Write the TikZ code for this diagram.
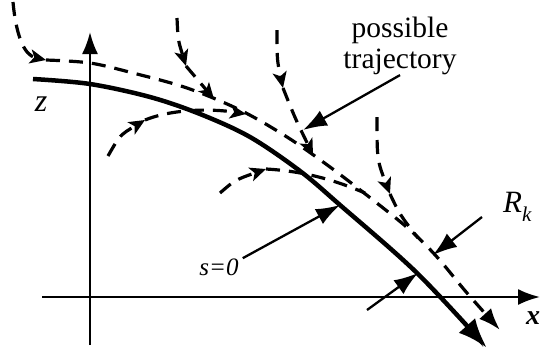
\documentclass[tikz,border=0pt]{standalone}
\usepackage{fontspec}
\setmainfont{Liberation Serif}
\usetikzlibrary{arrows.meta}
\tikzset{
	axis/.style    ={line width=2.2pt, -{Latex[length=22pt, width=16pt]}},
	surface/.style ={line width=4.5pt, -{Latex[length=30pt, width=22pt]}},
	traj/.style    ={line width=3.2pt, dash pattern=on 14pt off 9pt},
	trajhead/.style={traj, -{Stealth[length=16pt, width=14pt, inset=4pt]}},
	trajend/.style ={traj, -{Latex[length=22pt, width=16pt]}},
	pointer/.style ={line width=2.3pt, -{Latex[length=24pt, width=17pt]}},
	lbl/.style     ={inner sep=0pt},
}

\begin{document}
\begin{tikzpicture}[x=1pt, y=-1pt]
	\useasboundingbox (0,0) rectangle (540,351);
	% axes
	\draw[axis] (90,345) -- (90,32);
	\draw[axis] (42,297) -- (540,297);
	% sliding surface s=0
	\draw[surface] plot[smooth, tension=0.55] coordinates {(33,79) (90,84) (150,97) (200,114) (250,137) (300,171) (340,205) (417,273) (487,348)};
	% boundary trajectory
	\draw[trajhead] (13,2) .. controls (16,35) and (24,55) .. (46,60);
	\draw[trajend] plot[smooth, tension=0.55] coordinates {(46,60) (90,63) (133,73) (187,88) (240,110) (287,137) (330,167) (373,200) (410,230) (437,257) (467,293) (500,330)};
	% trajectories reaching the boundary layer
	\draw[trajhead] (177,18) .. controls (178,40) .. (186,66);
	\draw[trajhead] (186,66) -- (214,99);
	\draw[trajhead] (277,30) .. controls (277,60) .. (283,88);
	\draw[trajhead] (283,88) .. controls (295,118) .. (313,155);
	\draw[trajhead] (108,156) .. controls (120,135) .. (145,120);
	\draw[trajhead] (145,120) .. controls (175,108) and (215,109) .. (246,114);
	\draw[trajhead] (220,193) .. controls (235,180) .. (266,169);
	\draw[traj] (266,169) .. controls (300,171) and (330,178) .. (365,193);
	\draw[trajhead] (377,117) .. controls (377,160) .. (390,194);
	\draw[traj] (390,194) .. controls (400,215) .. (418,238);
	% labels
	\node[lbl, font=\fontsize{32}{36}\selectfont\itshape] (zlbl) at (41,104) {z};
	\node[lbl, font=\fontsize{28}{30}\selectfont\bfseries\itshape] (xlbl) at (533,318) {x};
	\node[lbl, font=\fontsize{29.5}{31}\selectfont, align=center] (trajlbl) at (400,46) {possible\\trajectory};
	\node[lbl, font=\fontsize{25}{30}\selectfont\itshape, anchor=base] (s0) at (219,275) {s=0};
	\node[lbl, font=\fontsize{31}{34}\selectfont\itshape, anchor=base west] (rk) at (503,212) {R\raisebox{-9pt}{\fontsize{21}{24}\selectfont k}};
	% pointers
	\coordinate (ptraj) at (303,130);
	\coordinate (psurf) at (340,205);
	\coordinate (rkout) at (482,217);
	\coordinate (rkin)  at (433,255);
	\coordinate (rsout) at (367,310);
	\coordinate (rsin)  at (418,273);
	\draw[pointer] (trajlbl.south) -- (ptraj);
	\draw[pointer] ([xshift=4pt]s0.north east) -- (psurf);
	\draw[pointer] (rkout) -- (rkin);
	\draw[pointer] (rsout) -- (rsin);
\end{tikzpicture}
\end{document}
